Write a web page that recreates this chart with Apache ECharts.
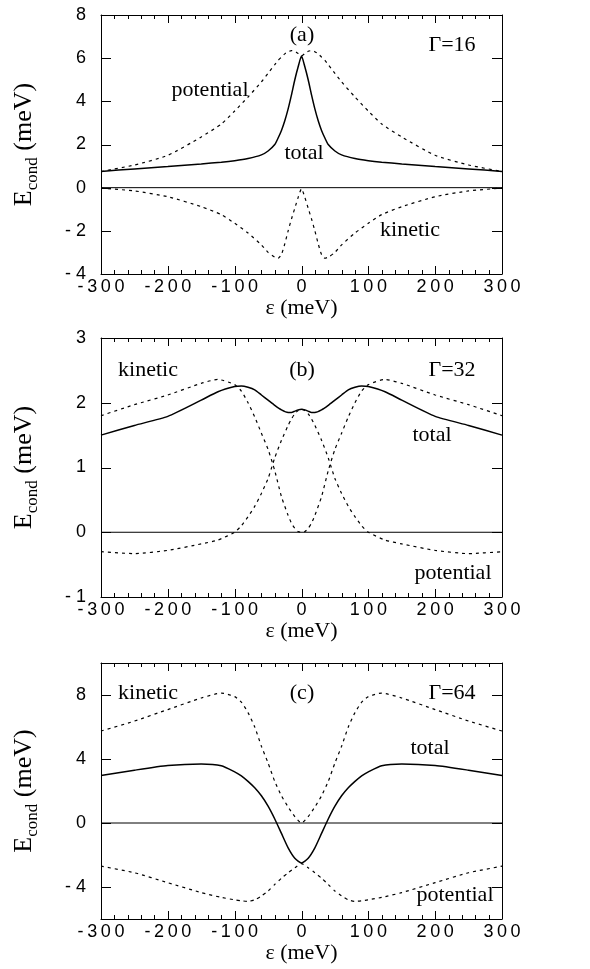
<!DOCTYPE html>
<html>
<head>
<meta charset="utf-8">
<script src="https://cdn.jsdelivr.net/npm/echarts@6/dist/echarts.min.js"></script>
<style>
  html, body { margin: 0; padding: 0; background: #fff; }
  #chart { width: 590px; height: 969px; }
</style>
</head>
<body>
<div id="chart"></div>
<script>
// tick labels and tick positions
var xLabels = [-300, -200, -100, 0, 100, 200, 300];
var xMajor = [-200, -100, 0, 100, 200];
var xMinor = [-280, -260, -240, -220, -180, -160, -140, -120, -80, -60, -40, -20, 20, 40, 60, 80, 120, 140, 160, 180, 220, 240, 260, 280];
var yLabelsA = [-4, -2, 0, 2, 4, 6, 8];
var yTicksA = [-2, 0, 2, 4, 6];
var yLabelsB = [-1, 0, 1, 2, 3];
var yTicksB = [0, 1, 2];
var yLabelsC = [-4, 0, 4, 8];
var yTicksC = [-4, 0, 4, 8];

// zero reference line
var zeroX = [-300, 300];
var zeroY = [0, 0];

// panel (a) Gamma=16
var xA = [-300, -250, -200, -150, -120, -100, -80, -60, -50, -40, -35, -30, -25, -20, -15, -10, -5, 0,
          5, 10, 15, 20, 25, 30, 35, 40, 50, 60, 80, 100, 120, 150, 200, 250, 300];
var totalA = [0.75, 0.87, 0.98, 1.1, 1.18, 1.25, 1.35, 1.52, 1.7, 2.0, 2.3, 2.65, 3.1, 3.65, 4.3, 5.0, 5.6, 6.1,
              5.6, 5.0, 4.3, 3.65, 3.1, 2.65, 2.3, 2.0, 1.7, 1.52, 1.35, 1.25, 1.18, 1.1, 0.98, 0.87, 0.75];
var potentialA = [0.75, 1.05, 1.5, 2.35, 2.95, 3.55, 4.2, 4.9, 5.3, 5.7, 5.9, 6.05, 6.2, 6.3, 6.35, 6.32, 6.22, 6.1,
                  6.22, 6.32, 6.35, 6.3, 6.2, 6.05, 5.9, 5.7, 5.3, 4.9, 4.2, 3.55, 2.95, 2.35, 1.5, 1.05, 0.75];
var kineticA = [-0.02, -0.15, -0.42, -0.88, -1.25, -1.65, -2.1, -2.65, -3.0, -3.22, -3.27, -3.1, -2.6, -2.0, -1.45, -0.95, -0.45, -0.05,
                -0.45, -0.95, -1.45, -2.0, -2.6, -3.1, -3.27, -3.22, -3.0, -2.65, -2.1, -1.65, -1.25, -0.88, -0.42, -0.15, -0.02];

// panel (b) Gamma=32
var xB = [-300, -250, -200, -150, -125, -100, -90, -80, -70, -60, -50, -40, -30, -20, -15, -10, -5, 0,
          5, 10, 15, 20, 30, 40, 50, 60, 70, 80, 90, 100, 125, 150, 200, 250, 300];
var totalB = [1.5, 1.65, 1.79, 2.04, 2.17, 2.25, 2.26, 2.24, 2.2, 2.12, 2.04, 1.96, 1.89, 1.85, 1.85, 1.87, 1.89, 1.9,
              1.89, 1.87, 1.85, 1.85, 1.89, 1.96, 2.04, 2.12, 2.2, 2.24, 2.26, 2.25, 2.17, 2.04, 1.79, 1.65, 1.5];
var kineticB = [1.8, 1.97, 2.12, 2.3, 2.36, 2.28, 2.18, 2.0, 1.78, 1.53, 1.28, 0.95, 0.55, 0.26, 0.14, 0.06, 0.01, 0.0,
                0.01, 0.06, 0.14, 0.26, 0.55, 0.95, 1.28, 1.53, 1.78, 2.0, 2.18, 2.28, 2.36, 2.3, 2.12, 1.97, 1.8];
var potentialB = [-0.3, -0.33, -0.28, -0.18, -0.12, 0.0, 0.1, 0.24, 0.4, 0.6, 0.83, 1.15, 1.42, 1.65, 1.75, 1.83, 1.88, 1.9,
                  1.88, 1.83, 1.75, 1.65, 1.42, 1.15, 0.83, 0.6, 0.4, 0.24, 0.1, 0.0, -0.12, -0.18, -0.28, -0.33, -0.3];

// panel (c) Gamma=64
var xC = [-300, -250, -200, -150, -120, -100, -90, -80, -70, -60, -50, -40, -30, -20, -10, 0,
          10, 20, 30, 40, 50, 60, 70, 80, 90, 100, 120, 150, 200, 250, 300];
var totalC = [2.97, 3.3, 3.59, 3.69, 3.58, 3.2, 2.95, 2.6, 2.2, 1.7, 1.05, 0.25, -0.65, -1.55, -2.2, -2.5,
              -2.2, -1.55, -0.65, 0.25, 1.05, 1.7, 2.2, 2.6, 2.95, 3.2, 3.58, 3.69, 3.59, 3.3, 2.97];
var kineticC = [5.75, 6.37, 7.09, 7.81, 8.12, 7.9, 7.55, 6.9, 6.0, 4.8, 3.75, 2.6, 1.7, 1.0, 0.4, 0.0,
                0.4, 1.0, 1.7, 2.6, 3.75, 4.8, 6.0, 6.9, 7.55, 7.9, 8.12, 7.81, 7.09, 6.37, 5.75];
var potentialC = [-2.7, -3.11, -3.73, -4.35, -4.65, -4.8, -4.86, -4.9, -4.8, -4.56, -4.25, -3.84, -3.45, -3.11, -2.8, -2.54,
                  -2.8, -3.11, -3.45, -3.84, -4.25, -4.56, -4.8, -4.9, -4.86, -4.8, -4.65, -4.35, -3.73, -3.11, -2.7];

var panels = [
  { x: xA, total: totalA, kin: kineticA, pot: potentialA, top: 15, height: 259, min: -4, max: 8, interval: 2, labels: yLabelsA, ticks: yTicksA },
  { x: xB, total: totalB, kin: kineticB, pot: potentialB, top: 338, height: 259, min: -1, max: 3, interval: 1, labels: yLabelsB, ticks: yTicksB },
  { x: xC, total: totalC, kin: kineticC, pot: potentialC, top: 663, height: 256, min: -6, max: 10, interval: 2, labels: yLabelsC, ticks: yTicksC }
];

var sansFont = 'Liberation Sans';
var serifFont = 'Liberation Serif';

function pairs(xs, ys) {
  return xs.map(function(x, i) { return [x, ys[i]]; });
}

function tickLine(x1, y1, x2, y2) {
  return { type: 'line', shape: { x1: x1, y1: y1, x2: x2, y2: y2 }, style: { stroke: '#000', lineWidth: 1 } };
}

// inward ticks on top and bottom edges, placed through the axis scale
function xTickRenderer(p, len) {
  return function(params, api) {
    var v = api.value(0);
    var b = api.coord([v, p.min]);
    var t = api.coord([v, p.max]);
    var px = Math.round(b[0]) + 0.5;
    return { type: 'group', children: [tickLine(px, b[1], px, b[1] - len), tickLine(px, t[1], px, t[1] + len)] };
  };
}

// inward ticks on left and right edges
function yTickRenderer(len) {
  return function(params, api) {
    var v = api.value(0);
    var l = api.coord([-300, v]);
    var r = api.coord([300, v]);
    var py = Math.round(l[1]) + 0.5;
    return { type: 'group', children: [tickLine(l[0], py, l[0] + len, py), tickLine(r[0], py, r[0] - len, py)] };
  };
}

var myChart = echarts.init(document.getElementById('chart'));

var grid = [], xAxis = [], yAxis = [], series = [];

panels.forEach(function(p, i) {
  grid.push({ left: 101, right: 88, top: p.top, height: p.height });

  var frameLine = { show: true, onZero: false, lineStyle: { color: '#000', width: 1 } };
  var xi = xAxis.length;
  xAxis.push({
    type: 'value', gridIndex: i, position: 'bottom', min: -300, max: 300, interval: 100,
    axisLine: frameLine, axisTick: { show: false }, splitLine: { show: false },
    name: 'ε (meV)', nameLocation: 'middle', nameGap: 21,
    nameTextStyle: { fontFamily: serifFont, fontSize: 22, color: '#000' },
    axisLabel: {
      customValues: xLabels, margin: 4, fontFamily: sansFont, fontSize: 18, color: '#000',
      formatter: function(v) { return String(v).split('').join('\u2009'); }
    }
  });
  xAxis.push({
    type: 'value', gridIndex: i, position: 'top', min: -300, max: 300, interval: 100,
    axisLine: frameLine, axisTick: { show: false }, axisLabel: { show: false }, splitLine: { show: false }
  });

  var yi = yAxis.length;
  yAxis.push({
    type: 'value', gridIndex: i, position: 'left', min: p.min, max: p.max, interval: p.interval,
    axisLine: frameLine, axisTick: { show: false }, splitLine: { show: false },
    axisLabel: {
      customValues: p.labels, margin: 15, fontFamily: sansFont, fontSize: 18, color: '#000',
      formatter: function(v) { return v < 0 ? '- ' + Math.abs(v) : String(v); }
    },
    name: '{e|E}{s|cond}{e| (meV)}', nameLocation: 'middle', nameGap: 60,
    nameTextStyle: {
      fontSize: 26,
      rich: {
        e: { fontFamily: serifFont, fontSize: 26, color: '#000', lineHeight: 26 },
        s: { fontFamily: serifFont, fontSize: 17, color: '#000', lineHeight: 34, verticalAlign: 'bottom' }
      }
    }
  });
  yAxis.push({
    type: 'value', gridIndex: i, position: 'right', min: p.min, max: p.max, interval: p.interval,
    axisLine: frameLine, axisTick: { show: false }, axisLabel: { show: false }, splitLine: { show: false }
  });

  var solid = { color: '#000', width: 1.5, type: 'solid' };
  var dashed = { color: '#000', width: 1.2, type: [3, 4] };
  series.push({
    type: 'line', xAxisIndex: xi, yAxisIndex: yi, showSymbol: false,
    data: pairs(zeroX, zeroY), lineStyle: { color: '#000', width: 1 }
  });
  series.push({
    type: 'line', xAxisIndex: xi, yAxisIndex: yi, showSymbol: false, smooth: 0.2,
    data: pairs(p.x, p.total), lineStyle: solid
  });
  series.push({
    type: 'line', xAxisIndex: xi, yAxisIndex: yi, showSymbol: false, smooth: 0.2,
    data: pairs(p.x, p.kin), lineStyle: dashed
  });
  series.push({
    type: 'line', xAxisIndex: xi, yAxisIndex: yi, showSymbol: false, smooth: 0.2,
    data: pairs(p.x, p.pot), lineStyle: dashed
  });

  // tick marks
  series.push({
    type: 'custom', xAxisIndex: xi, yAxisIndex: yi, clip: false, silent: true,
    renderItem: xTickRenderer(p, 8), data: xMajor.map(function(v) { return [v]; })
  });
  series.push({
    type: 'custom', xAxisIndex: xi, yAxisIndex: yi, clip: false, silent: true,
    renderItem: xTickRenderer(p, 4), data: xMinor.map(function(v) { return [v]; })
  });
  series.push({
    type: 'custom', xAxisIndex: xi, yAxisIndex: yi, clip: false, silent: true,
    renderItem: yTickRenderer(10), data: p.ticks.map(function(v) { return [v]; })
  });
});

function label(text, x, y) {
  return {
    text: text, left: x, top: y, padding: 0, textAlign: 'center', textVerticalAlign: 'middle',
    textStyle: { fontFamily: serifFont, fontSize: 22, fontWeight: 'normal', color: '#000' }
  };
}

myChart.setOption({
  animation: false,
  grid: grid,
  xAxis: xAxis,
  yAxis: yAxis,
  series: series,
  title: [
    label('(a)', 302, 35), label('Γ=16', 452, 45), label('potential', 210, 90),
    label('total', 304, 153), label('kinetic', 410, 230),
    label('kinetic', 148, 370), label('(b)', 302, 370), label('Γ=32', 452, 370),
    label('total', 432, 435), label('potential', 453, 573),
    label('kinetic', 148, 693), label('(c)', 302, 693), label('Γ=64', 452, 693),
    label('total', 430, 748), label('potential', 455, 895)
  ]
});
</script>
</body>
</html>
